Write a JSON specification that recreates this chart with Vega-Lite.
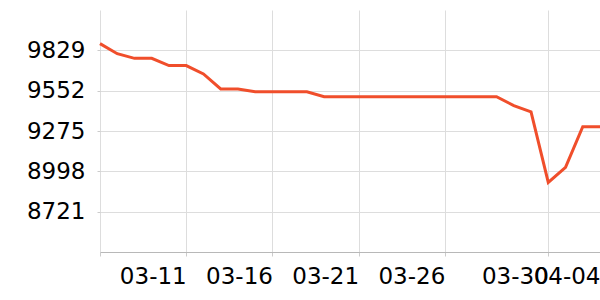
{
  "$schema": "https://vega.github.io/schema/vega-lite/v6.json",
  "autosize": {"type": "none"},
  "width": 500,
  "height": 242,
  "padding": {"left": 100, "top": 10, "right": 0, "bottom": 48},
  "background": "white",
  "config": {
    "view": {"stroke": null},
    "font": "DejaVu Sans"
  },
  "data": {
    "values": [
      {"date": "2024-03-06", "value": 9875},
      {"date": "2024-03-07", "value": 9806},
      {"date": "2024-03-08", "value": 9774},
      {"date": "2024-03-09", "value": 9774},
      {"date": "2024-03-10", "value": 9724},
      {"date": "2024-03-11", "value": 9724},
      {"date": "2024-03-12", "value": 9667},
      {"date": "2024-03-13", "value": 9564},
      {"date": "2024-03-14", "value": 9564},
      {"date": "2024-03-15", "value": 9545},
      {"date": "2024-03-16", "value": 9545},
      {"date": "2024-03-17", "value": 9545},
      {"date": "2024-03-18", "value": 9545},
      {"date": "2024-03-19", "value": 9511},
      {"date": "2024-03-20", "value": 9511},
      {"date": "2024-03-21", "value": 9511},
      {"date": "2024-03-22", "value": 9511},
      {"date": "2024-03-23", "value": 9511},
      {"date": "2024-03-24", "value": 9511},
      {"date": "2024-03-25", "value": 9511},
      {"date": "2024-03-26", "value": 9511},
      {"date": "2024-03-27", "value": 9511},
      {"date": "2024-03-28", "value": 9511},
      {"date": "2024-03-29", "value": 9511},
      {"date": "2024-03-30", "value": 9449},
      {"date": "2024-03-31", "value": 9406},
      {"date": "2024-04-01", "value": 8922},
      {"date": "2024-04-02", "value": 9025},
      {"date": "2024-04-03", "value": 9305},
      {"date": "2024-04-04", "value": 9305}
    ]
  },
  "mark": {"type": "line", "color": "#f04e2b", "strokeWidth": 3},
  "encoding": {
    "x": {
      "field": "date",
      "type": "temporal",
      "scale": {"type": "utc", "nice": false},
      "axis": {
        "title": null,
        "values": [
          {"year": 2024, "month": 3, "date": 6, "utc": true},
          {"year": 2024, "month": 3, "date": 11, "utc": true},
          {"year": 2024, "month": 3, "date": 16, "utc": true},
          {"year": 2024, "month": 3, "date": 21, "utc": true},
          {"year": 2024, "month": 3, "date": 26, "utc": true},
          {"year": 2024, "month": 4, "date": 1, "utc": true},
          {"year": 2024, "month": 4, "date": 4, "utc": true}
        ],
        "labelExpr": "utcFormat(datum.value, '%m-%d') == '03-06' ? '' : (utcFormat(datum.value, '%m-%d') == '04-01' ? '03-30' : utcFormat(datum.value, '%m-%d'))",
        "labelAlign": "right",
        "labelFlush": false,
        "labelOverlap": false,
        "labelFontSize": 23,
        "labelFont": "DejaVu Sans",
        "labelColor": "#000000",
        "labelPadding": 9,
        "tickSize": 4,
        "tickColor": "#cccccc",
        "domainColor": "#b8b8b8",
        "gridColor": "#dddddd",
        "grid": true
      }
    },
    "y": {
      "field": "value",
      "type": "quantitative",
      "scale": {"domain": [8444, 10106], "nice": false, "zero": false},
      "axis": {
        "title": null,
        "values": [8721, 8998, 9275, 9552, 9829],
        "format": "d",
        "domain": false,
        "tickSize": 3,
        "tickColor": "#cccccc",
        "gridColor": "#dddddd",
        "labelFontSize": 23,
        "labelFont": "DejaVu Sans",
        "labelColor": "#000000",
        "labelPadding": 12
      }
    }
  }
}
